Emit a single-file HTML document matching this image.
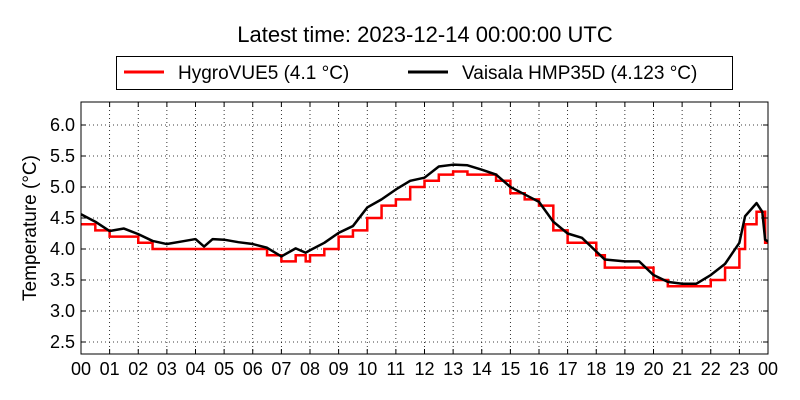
<!DOCTYPE html>
<html><head><meta charset="utf-8"><style>
body{margin:0;background:#fff;}
svg{display:block;font-family:"Liberation Sans","DejaVu Sans",sans-serif;}
</style></head><body>
<svg width="800" height="400" viewBox="0 0 800 400">
<rect width="800" height="400" fill="#fff"/>
<text x="425" y="42" font-size="22" text-anchor="middle">Latest time: 2023-12-14 00:00:00 UTC</text>
<g>
<rect x="116.5" y="56.5" width="616" height="33" fill="#fff" stroke="#000" stroke-width="1"/>
<line x1="124" y1="72" x2="164" y2="72" stroke="#f00" stroke-width="3"/>
<text x="178" y="79" font-size="19">HygroVUE5 (4.1 °C)</text>
<line x1="408" y1="72" x2="448" y2="72" stroke="#000" stroke-width="3"/>
<text x="462" y="79" font-size="19">Vaisala HMP35D (4.123 °C)</text>
</g>
<g id="grid"></g>
<g id="series"></g>
<rect x="81" y="102" width="687" height="252" fill="none" stroke="#000" stroke-width="1"/>
<g id="axes"></g>
<text transform="translate(36,228) rotate(-90)" font-size="19" text-anchor="middle">Temperature (°C)</text>
</svg>
<script>
const hours=[0,0.5,1,1.5,2,2.5,3,3.5,4,4.3,4.6,5,5.5,6,6.5,7,7.5,7.85,8,8.5,9,9.5,10,10.5,11,11.5,12,12.5,13,13.5,14,14.5,15,15.5,16,16.5,17,17.5,18,18.3,19,19.5,20,20.5,21,21.5,22,22.5,23,23.2,23.6,23.8,23.9,24];
const vaisala=[4.56,4.44,4.29,4.33,4.24,4.13,4.08,4.12,4.16,4.04,4.16,4.15,4.11,4.08,4.02,3.88,4.01,3.94,3.98,4.1,4.26,4.37,4.67,4.8,4.96,5.1,5.15,5.33,5.36,5.35,5.28,5.2,5.0,4.88,4.76,4.44,4.25,4.18,3.96,3.83,3.8,3.8,3.58,3.47,3.44,3.44,3.58,3.76,4.1,4.53,4.74,4.6,4.15,4.12];
const hygro=[4.4,4.3,4.2,4.2,4.1,4.0,4.0,4.0,4.0,4.0,4.0,4.0,4.0,4.0,3.9,3.8,3.9,3.8,3.9,4.0,4.2,4.3,4.5,4.7,4.8,5.0,5.1,5.2,5.25,5.2,5.2,5.1,4.9,4.8,4.7,4.3,4.1,4.1,3.9,3.7,3.7,3.7,3.5,3.4,3.4,3.4,3.5,3.7,4.0,4.4,4.6,4.6,4.1,4.1];
const yTicks=[2.5,3.0,3.5,4.0,4.5,5.0,5.5,6.0];
const xTickLabels=["00","01","02","03","04","05","06","07","08","09","10","11","12","13","14","15","16","17","18","19","20","21","22","23","00"];
const NS="http://www.w3.org/2000/svg";
const X0=81,X1=768;
function xs(h){return X0+(h/24)*(X1-X0);}
function ys(v){return 249-(v-4)*62;}
const grid=document.getElementById('grid'),axes=document.getElementById('axes'),series=document.getElementById('series');
function mk(tag,attrs,parent){const e=document.createElementNS(NS,tag);for(const k in attrs)e.setAttribute(k,attrs[k]);parent.appendChild(e);return e;}
yTicks.forEach(v=>{
 const y=ys(v);
 const g=mk('line',{x1:X0,x2:X1,y1:y,y2:y,stroke:'#000','stroke-width':0.8,'stroke-dasharray':'1,3'},grid);
 
 
 mk('line',{x1:X0,x2:X0+5,y1:y,y2:y,stroke:'#000'},axes);
 mk('line',{x1:X1-5,x2:X1,y1:y,y2:y,stroke:'#000'},axes);
 const t=mk('text',{x:X0-6,y:y+6,'font-size':18,'text-anchor':'end'},axes);
 t.textContent=v.toFixed(1);
 
 
});
xTickLabels.forEach((lab,i)=>{
 const x=xs(i);
 if(i>0&&i<24){
  const g=mk('line',{x1:x,x2:x,y1:102,y2:354,stroke:'#000','stroke-width':0.8,'stroke-dasharray':'1,3'},grid);
  
  
 }
 mk('line',{x1:x,x2:x,y1:354,y2:349,stroke:'#000'},axes);
 mk('line',{x1:x,x2:x,y1:102,y2:107,stroke:'#000'},axes);
 const t=mk('text',{x:x,y:375,'font-size':18,'text-anchor':'middle'},axes);
 t.textContent=lab;
 
 
});
// hygro as steps
let d='';
hours.forEach((h,i)=>{
 if(i===0)d+='M'+xs(h)+','+ys(hygro[i]);
 else d+='H'+xs(h)+'V'+ys(hygro[i]);
});
const r=mk('path',{d:d,fill:'none',stroke:'#f00','stroke-width':2.5},series);


const pts=hours.map((h,i)=>xs(h)+','+ys(vaisala[i])).join(' ');
const b=mk('polyline',{points:pts,fill:'none',stroke:'#000','stroke-width':2.5,'stroke-linejoin':'round'},series);


</script>
</body></html>
